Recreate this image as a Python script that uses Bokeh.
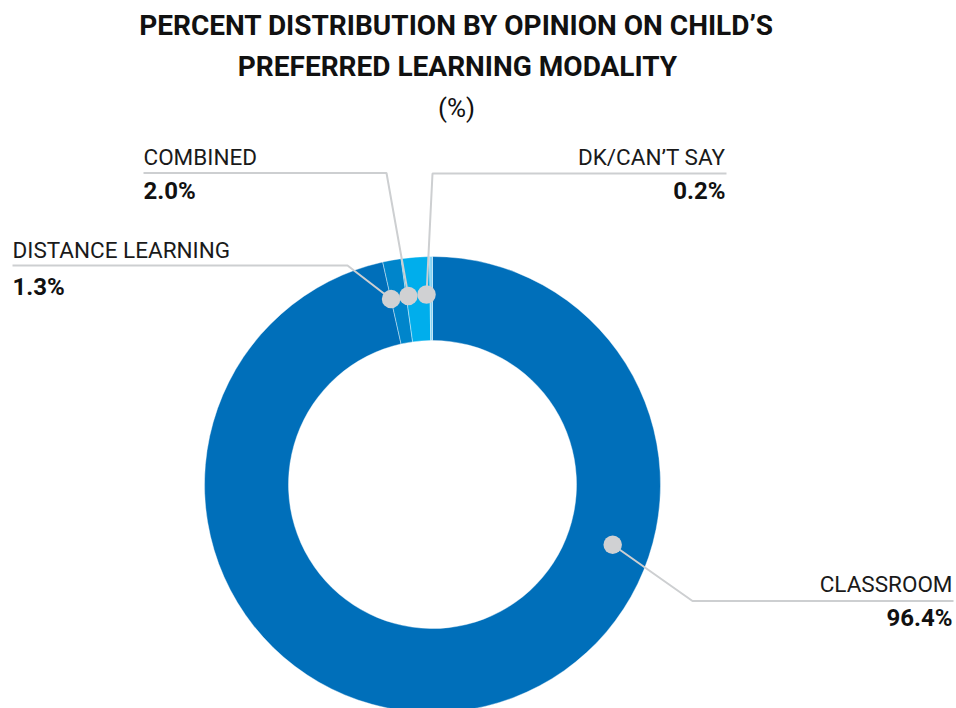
import math
from bokeh.plotting import figure
from bokeh.models import ColumnDataSource, Range1d
from bokeh.core.properties import value
from bokeh.embed import file_html
from bokeh.resources import INLINE

# ---- data ----
categories = ["CLASSROOM", "DISTANCE LEARNING", "COMBINED", "DK/CAN\u2019T SAY"]
percents = [96.4, 1.3, 2.0, 0.2]
value_labels = ["96.4%", "1.3%", "2.0%", "0.2%"]
colors = ["#006FBA", "#0085CB", "#00AEEC", "#84D2F4"]

title_lines = ["PERCENT DISTRIBUTION BY OPINION ON CHILD\u2019S",
               "PREFERRED LEARNING MODALITY"]
subtitle = "(%)"

# ---- layout ----
W, H = 956, 708
TXT_DY = 9  # compensation for baseline rendering
def X(px):
    return px
def Y(py):
    return H - py

CX, CY = X(432), Y(484)
R_OUT, R_IN = 228, 144
DOT_R = 190
# dot angles: degrees counter-clockwise from 12 o'clock
dot_angles = [251.5, 12.6, 7.3, 1.8]
# label layout: (line_start_px, elbow_px, line_y_px, align, name_base_y, value_base_y, text_x)
layouts = [
    (953, 692, 600.5, "right", 592, 626, 952),
    (12, 347, 265, "left", 258, 295, 12),
    (143, 386, 172.5, "left", 165, 199, 143),
    (726, 432, 173, "right", 165, 199, 725),
]

p = figure(width=W, height=H, output_backend="svg", toolbar_location=None,
           x_range=Range1d(0, W), y_range=Range1d(0, H), min_border=0)
p.axis.visible = False
p.grid.visible = False
p.outline_line_color = None
p.background_fill_color = "white"
p.border_fill_color = "white"

# donut wedges: clockwise from 12 o'clock
total = sum(percents)
starts, ends = [], []
cum = 0.0
for v in percents:
    a0 = math.pi / 2 - 2 * math.pi * (cum + v) / total
    a1 = math.pi / 2 - 2 * math.pi * cum / total
    starts.append(a0)
    ends.append(a1)
    cum += v
src = ColumnDataSource(dict(x=[CX] * len(percents), y=[CY] * len(percents),
                            start=starts, end=ends, color=colors))
p.annular_wedge(x="x", y="y", inner_radius=R_IN, outer_radius=R_OUT,
                start_angle="start", end_angle="end", color="color",
                line_color="white", line_width=0.4, direction="anticlock",
                source=src)

# leader lines and dots
dot_x, dot_y = [], []
xs, ys = [], []
for ang, lay in zip(dot_angles, layouts):
    a = math.radians(ang)
    dx = CX - DOT_R * math.sin(a)
    dy = CY + DOT_R * math.cos(a)
    dot_x.append(dx)
    dot_y.append(dy)
    x0, x1, ly = lay[0], lay[1], lay[2]
    xs.append([X(x0), X(x1), dx])
    ys.append([Y(ly), Y(ly), dy])
p.multi_line(xs=xs, ys=ys, line_color="#CDCFD1", line_width=2)
p.scatter(x=dot_x, y=dot_y, size=18.5, marker="circle", color="#D0D1D3",
          line_color=None)

# labels
for cat, val, lay in zip(categories, value_labels, layouts):
    align = lay[3]
    p.text(x=[X(lay[6])], y=[Y(lay[4] - TXT_DY)], text=[cat], text_align=align,
           text_baseline="alphabetic", text_font=value("Roboto"),
           text_font_size="22.5px", text_color="#1a1a1a")
    p.text(x=[X(lay[6])], y=[Y(lay[5] - TXT_DY)], text=[val], text_align=align,
           text_baseline="alphabetic", text_font=value("Roboto"),
           text_font_style="bold", text_font_size="24px", text_color="#111111")

# title
p.text(x=[X(456)], y=[Y(34 - TXT_DY)], text=[title_lines[0]], text_align="center",
       text_baseline="alphabetic", text_font=value("Roboto"),
       text_font_style="bold", text_font_size="28px", text_color="#111111")
p.text(x=[X(457)], y=[Y(75 - TXT_DY)], text=[title_lines[1]], text_align="center",
       text_baseline="alphabetic", text_font=value("Roboto"),
       text_font_style="bold", text_font_size="28px", text_color="#111111")
p.text(x=[X(456)], y=[Y(107)], text=[subtitle], text_align="center",
       text_baseline="middle", text_font=value("Roboto"),
       text_font_size="26px", text_color="#111111")

open("out.html", "w").write(file_html(p, INLINE))
